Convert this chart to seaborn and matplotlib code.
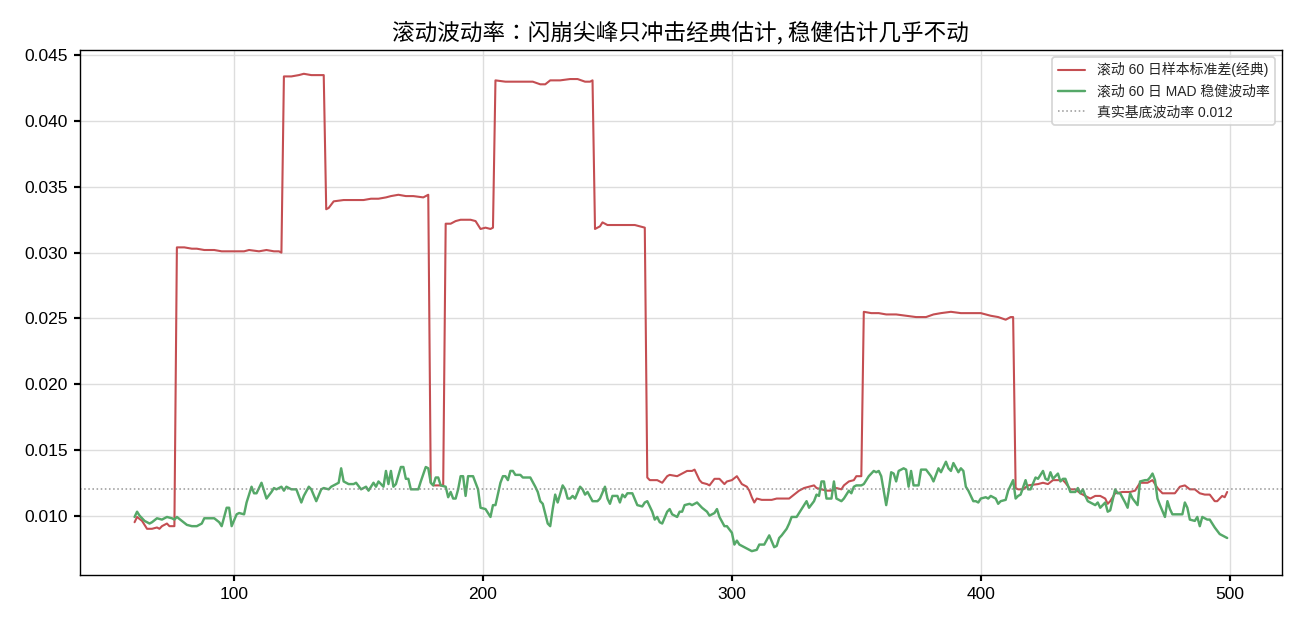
import matplotlib
matplotlib.use('Agg')
import matplotlib.pyplot as plt
import seaborn as sns

# 经典滚动标准差
std_day = [60, 61, 63, 65, 67, 69, 70, 71, 73, 74, 76,
           77, 80, 83, 85, 88, 92, 95, 100, 104, 106, 110, 113, 116, 118, 119,
           120, 123, 126, 128, 131, 134, 136,
           137, 138, 140, 144, 148, 152, 155, 158, 161, 163, 166, 169, 172, 176, 178,
           179, 180, 184,
           185, 187, 189, 191, 195, 197, 199, 201, 203, 204,
           205, 209, 213, 216, 220, 223, 225, 227, 231, 235, 238, 241, 243, 244,
           245, 247, 248, 250, 253, 257, 261, 263, 265,
           266, 267, 270, 272, 274, 275, 278, 280, 282, 284, 285, 287, 288, 290, 291,
           293, 295, 297, 298, 300, 302, 303, 304, 306, 307, 308, 309, 310, 312, 316,
           318, 321, 323, 325, 327, 329, 331, 333, 334, 336, 338, 340, 342, 344, 345,
           347, 349, 350, 352,
           353, 356, 359, 362, 366, 370, 374, 378, 381, 384, 388, 392, 396, 400, 404,
           407, 410, 412, 413,
           414, 415, 417, 419, 423, 425, 427, 429, 431, 433, 434, 436, 438, 440, 442,
           444, 446, 448, 450, 451, 452, 454, 457, 460, 462, 464, 467, 469, 471, 473,
           476, 478, 480, 482, 484, 486, 488, 490, 492, 494, 495, 497, 498, 499]
std_val = [0.0095, 0.0099, 0.0096, 0.0090, 0.0090, 0.0091, 0.0090, 0.0092, 0.0094, 0.0092, 0.0092,
           0.0304, 0.0304, 0.0303, 0.0303, 0.0302, 0.0302, 0.0301, 0.0301, 0.0301, 0.0302, 0.0301,
           0.0302, 0.0301, 0.0301, 0.0300,
           0.0434, 0.0434, 0.0435, 0.0436, 0.0435, 0.0435, 0.0435,
           0.0333, 0.0334, 0.0339, 0.0340, 0.0340, 0.0340, 0.0341, 0.0341, 0.0342, 0.0343, 0.0344,
           0.0343, 0.0343, 0.0342, 0.0344,
           0.0125, 0.0123, 0.0123,
           0.0322, 0.0322, 0.0324, 0.0325, 0.0325, 0.0324, 0.0318, 0.0319, 0.0318, 0.0319,
           0.0431, 0.0430, 0.0430, 0.0430, 0.0430, 0.0428, 0.0428, 0.0431, 0.0431, 0.0432, 0.0432,
           0.0430, 0.0430, 0.0431,
           0.0318, 0.0320, 0.0323, 0.0321, 0.0321, 0.0321, 0.0321, 0.0320, 0.0319,
           0.0129, 0.0127, 0.0127, 0.0125, 0.0130, 0.0131, 0.0130, 0.0132, 0.0134, 0.0134, 0.0135,
           0.0127, 0.0125, 0.0124, 0.0123,
           0.0128, 0.0128, 0.0124, 0.0126, 0.0127, 0.0130, 0.0127, 0.0124, 0.0122, 0.0119, 0.0114,
           0.0110, 0.0113, 0.0112, 0.0112,
           0.0113, 0.0113, 0.0113, 0.0116, 0.0119, 0.0121, 0.0122, 0.0123, 0.0121, 0.0120, 0.0119,
           0.0119, 0.0121, 0.0120, 0.0123,
           0.0126, 0.0127, 0.0130, 0.0130,
           0.0255, 0.0254, 0.0254, 0.0253, 0.0253, 0.0252, 0.0251, 0.0251, 0.0253, 0.0254, 0.0255,
           0.0254, 0.0254, 0.0254, 0.0252, 0.0251, 0.0249, 0.0251, 0.0251,
           0.0121, 0.0120, 0.0120, 0.0123, 0.0124, 0.0125, 0.0124, 0.0127, 0.0127, 0.0127, 0.0125,
           0.0120, 0.0120, 0.0117, 0.0115, 0.0113, 0.0115, 0.0115, 0.0113, 0.0109, 0.0111, 0.0117,
           0.0118, 0.0118, 0.0119, 0.0125, 0.0125, 0.0127, 0.0121, 0.0117, 0.0117, 0.0117, 0.0122,
           0.0123, 0.0120, 0.0120, 0.0117, 0.0116, 0.0116, 0.0111, 0.0111, 0.0115, 0.0114, 0.0118]

# MAD 稳健波动率
mad_day = [60, 61, 62, 64, 66, 67, 69, 71, 73, 75, 76, 77, 79, 81, 83, 85, 87, 88, 92, 94,
           95, 97, 98, 99, 101, 102, 104, 105, 107, 108, 109, 111, 113, 115, 116, 117, 119, 120,
           121, 123, 125, 127, 128, 130, 131, 133, 135, 136, 138, 139, 140, 142, 143, 144, 146,
           148, 149, 151, 153, 154, 156, 157, 158, 160, 161, 162, 163, 164, 165, 167, 168, 169,
           170, 171, 174, 175, 177, 178, 179, 180, 181, 182, 183, 185, 186, 187, 188, 189, 190,
           191, 192, 193, 194, 196, 198, 199, 201, 203, 204, 205, 207, 208, 209, 210, 211, 212,
           213, 215, 216, 219, 221, 222, 223, 224, 226, 227, 228, 229, 230, 232, 233, 234, 235,
           236, 237, 239, 240, 241, 242, 244, 246, 247, 249, 250, 251, 252, 254, 255, 256, 257,
           258, 260, 262, 264, 265, 266, 268, 269, 270, 271, 272, 274, 275, 276, 278, 279, 280,
           281, 283, 284, 286, 288, 290, 291, 293, 294, 295, 297, 298, 300, 301, 302, 303, 305,
           306, 308, 310, 311, 313, 315, 317, 318, 319, 320, 322, 323, 324, 326, 328, 330, 331,
           333, 334, 335, 336, 337, 338, 340, 341, 342, 344, 345, 347, 348, 349, 350, 351, 352,
           353, 355, 356, 357, 358, 359, 360, 361, 362, 363, 364, 365, 366, 367, 369, 370, 371,
           372, 373, 375, 376, 378, 380, 381, 383, 384, 386, 387, 388, 389, 391, 392, 393, 394,
           395, 397, 398, 399, 400, 402, 403, 404, 406, 407, 408, 410, 411, 413, 414, 415, 416,
           418, 419, 420, 422, 423, 425, 426, 427, 428, 429, 431, 432, 433, 434, 436, 438, 439,
           440, 441, 442, 443, 445, 446, 447, 448, 450, 451, 452, 454, 455, 456, 458, 459, 460,
           461, 463, 464, 466, 467, 468, 469, 470, 471, 472, 474, 475, 476, 477, 479, 481, 482,
           483, 484, 486, 487, 488, 489, 491, 492, 494, 496, 497, 499]
mad_val = [0.0099, 0.0103, 0.0100, 0.0096, 0.0094, 0.0095, 0.0098, 0.0097, 0.0099, 0.0098,
           0.0097, 0.0099, 0.0096, 0.0093, 0.0092, 0.0092, 0.0094, 0.0098, 0.0098, 0.0095,
           0.0092, 0.0106, 0.0106, 0.0092, 0.0101, 0.0102, 0.0101, 0.0110, 0.0122, 0.0117,
           0.0117, 0.0125, 0.0113, 0.0118, 0.0121, 0.0120, 0.0122, 0.0119, 0.0122, 0.0120,
           0.0120, 0.0110, 0.0115, 0.0122, 0.0120, 0.0111, 0.0120, 0.0121, 0.0120, 0.0122,
           0.0123, 0.0125, 0.0136, 0.0126, 0.0124, 0.0124, 0.0125, 0.0120, 0.0122, 0.0119,
           0.0125, 0.0122, 0.0126, 0.0122, 0.0134, 0.0124, 0.0134, 0.0122, 0.0124, 0.0137,
           0.0137, 0.0128, 0.0128, 0.0120, 0.0120, 0.0126, 0.0137, 0.0136, 0.0125, 0.0123,
           0.0129, 0.0129, 0.0123, 0.0122, 0.0114, 0.0118, 0.0113, 0.0113, 0.0120, 0.0130,
           0.0130, 0.0115, 0.0130, 0.0130, 0.0120, 0.0106, 0.0105, 0.0099, 0.0108, 0.0108,
           0.0125, 0.0130, 0.0130, 0.0127, 0.0134, 0.0134, 0.0131, 0.0131, 0.0129, 0.0129,
           0.0122, 0.0118, 0.0111, 0.0109, 0.0094, 0.0092, 0.0105, 0.0116, 0.0110, 0.0123,
           0.0120, 0.0113, 0.0113, 0.0115, 0.0113, 0.0122, 0.0120, 0.0116, 0.0118, 0.0111,
           0.0111, 0.0113, 0.0122, 0.0113, 0.0109, 0.0115, 0.0115, 0.0110, 0.0116, 0.0114,
           0.0117, 0.0117, 0.0108, 0.0107, 0.0110, 0.0111, 0.0103, 0.0097, 0.0099, 0.0095,
           0.0094, 0.0103, 0.0105, 0.0101, 0.0099, 0.0103, 0.0103, 0.0108, 0.0109, 0.0108,
           0.0110, 0.0106, 0.0103, 0.0100, 0.0102, 0.0105, 0.0099, 0.0092, 0.0092, 0.0087,
           0.0078, 0.0081, 0.0078, 0.0076, 0.0075, 0.0073, 0.0074, 0.0078, 0.0078, 0.0085,
           0.0076, 0.0077, 0.0083, 0.0085, 0.0090, 0.0094, 0.0099, 0.0099, 0.0105, 0.0111,
           0.0106, 0.0111, 0.0116, 0.0115, 0.0126, 0.0126, 0.0113, 0.0113, 0.0126, 0.0113,
           0.0111, 0.0113, 0.0119, 0.0117, 0.0122, 0.0123, 0.0123, 0.0123, 0.0124, 0.0130,
           0.0132, 0.0134, 0.0133, 0.0134, 0.0130, 0.0119, 0.0108, 0.0119, 0.0133, 0.0132,
           0.0126, 0.0134, 0.0136, 0.0135, 0.0122, 0.0134, 0.0123, 0.0123, 0.0135, 0.0135,
           0.0130, 0.0126, 0.0136, 0.0133, 0.0141, 0.0136, 0.0134, 0.0140, 0.0133, 0.0136,
           0.0134, 0.0122, 0.0119, 0.0111, 0.0111, 0.0110, 0.0113, 0.0114, 0.0113, 0.0115,
           0.0113, 0.0109, 0.0111, 0.0112, 0.0119, 0.0127, 0.0113, 0.0115, 0.0116, 0.0127,
           0.0120, 0.0120, 0.0129, 0.0128, 0.0134, 0.0128, 0.0127, 0.0133, 0.0128, 0.0132,
           0.0126, 0.0128, 0.0128, 0.0118, 0.0118, 0.0121, 0.0117, 0.0120, 0.0115, 0.0111,
           0.0109, 0.0108, 0.0110, 0.0106, 0.0110, 0.0103, 0.0104, 0.0120, 0.0117, 0.0117,
           0.0110, 0.0106, 0.0117, 0.0113, 0.0108, 0.0126, 0.0127, 0.0127, 0.0129, 0.0132,
           0.0127, 0.0113, 0.0108, 0.0099, 0.0111, 0.0105, 0.0101, 0.0101, 0.0101, 0.0110,
           0.0106, 0.0097, 0.0096, 0.0099, 0.0092, 0.0099, 0.0097, 0.0097, 0.0091, 0.0086,
           0.0085, 0.0083]

true_vol = 0.012

sns.set_theme(style='ticks')
plt.rcParams['font.family'] = ['Liberation Sans', 'Noto Sans CJK SC', 'DejaVu Sans']
plt.rcParams['axes.unicode_minus'] = False

fig, ax = plt.subplots(figsize=(10.4, 4.992), dpi=125)
fig.subplots_adjust(left=0.0615, right=0.986, top=0.92, bottom=0.0785)

sns.lineplot(x=std_day, y=std_val, ax=ax, color='#c44e52', linewidth=1.2,
             label='滚动 60 日样本标准差(经典)')
sns.lineplot(x=mad_day, y=mad_val, ax=ax, color='#55a868', linewidth=1.4,
             label='滚动 60 日 MAD 稳健波动率')
ax.axhline(true_vol, color='gray', linestyle=':', linewidth=0.9, alpha=0.8,
           label='真实基底波动率 0.012')

ax.grid(True, color='#dddddd', linewidth=0.8)
ax.set_axisbelow(True)
for spine in ax.spines.values():
    spine.set_visible(True)
    spine.set_color('black')
    spine.set_linewidth(0.8)
ax.tick_params(axis='both', labelsize=10, length=3.5, color='black', labelcolor='black')
ax.set_xlabel('')
ax.set_ylabel('')
ax.set_title('滚动波动率：闪崩尖峰只冲击经典估计, 稳健估计几乎不动', fontsize=13,
             color='black', family=['Noto Sans CJK JP', 'DejaVu Sans'])
ax.legend(loc='upper right', fontsize=8, frameon=True)

fig.savefig('out.png', dpi=125)
